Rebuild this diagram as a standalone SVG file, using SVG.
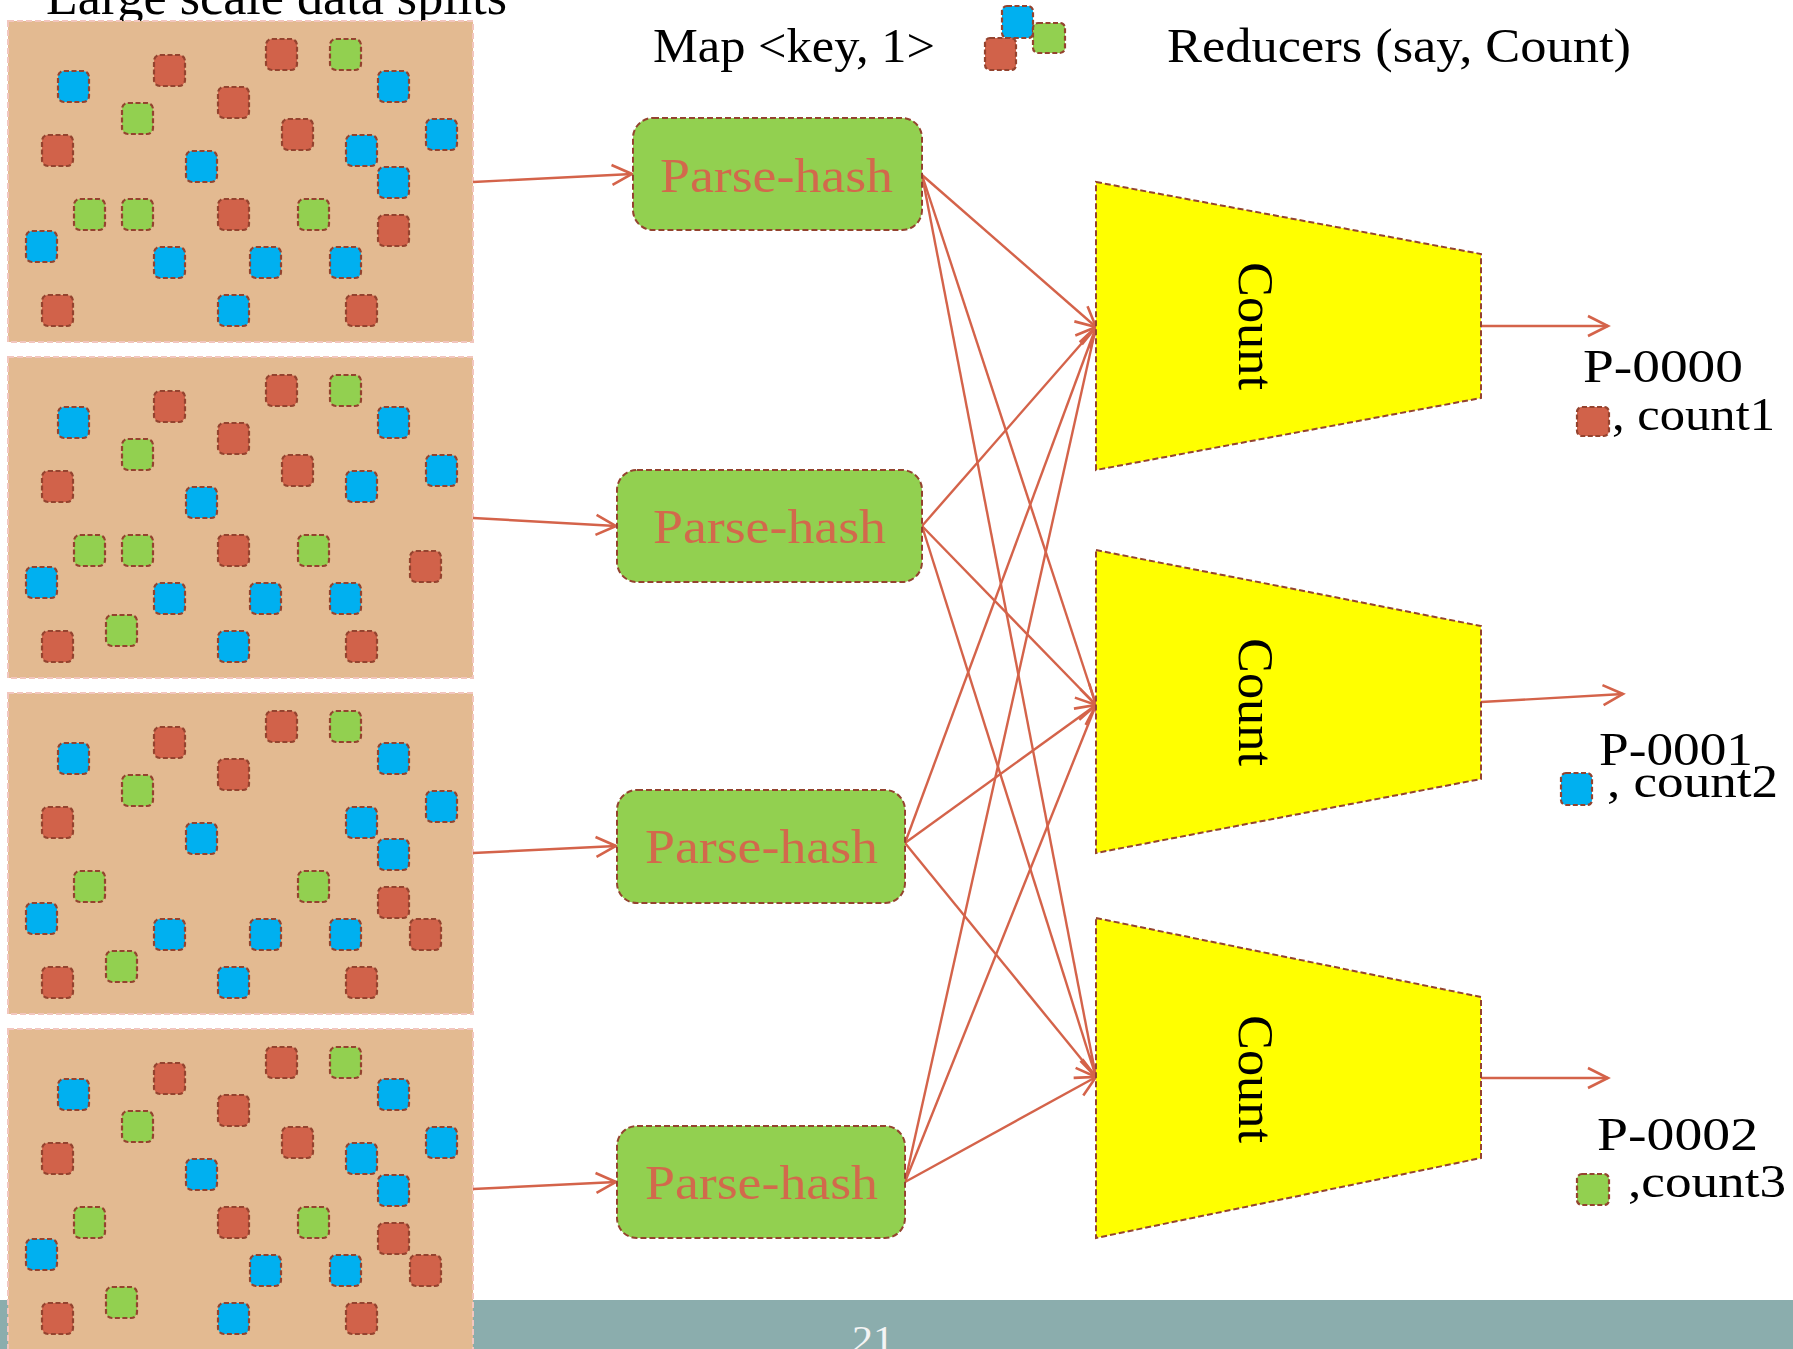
<svg xmlns="http://www.w3.org/2000/svg" width="1793" height="1349" viewBox="0 0 1793 1349">
<defs>
<style>
.txt{font-family:"Liberation Serif","Times New Roman",serif;fill:#000}
.ph{font-family:"Liberation Serif","Times New Roman",serif;fill:#D2694C;font-size:49px}
.split{fill:#E3BA91;stroke:#F2C6BE;stroke-width:2;stroke-dasharray:6 3}
.sq{stroke:#94432F;stroke-width:2.2;stroke-dasharray:5 2.5}
.r{fill:#D1624A}.b{fill:#00B0F0}.g{fill:#92D050}
.phbox{fill:#92D050;stroke:#94432F;stroke-width:2;stroke-dasharray:6 3}
.trap{fill:#FFFF00;stroke:#94432F;stroke-width:2;stroke-dasharray:6 3}
.con{stroke:#D4634A;stroke-width:2.4;fill:none;marker-end:url(#ah)}
</style>
<marker id="ah" markerUnits="userSpaceOnUse" markerWidth="26" markerHeight="26" refX="20" refY="10" orient="auto" overflow="visible">
<path d="M0,0 L20,10 L0,20" fill="none" stroke="#D4634A" stroke-width="2.6"/>
</marker>
</defs>
<rect width="1793" height="1349" fill="#FFFFFF"/>
<rect id="footer" x="0" y="1300" width="1793" height="49" fill="#8BADAD"/>
<text class="txt" x="873" y="1352" font-size="38" text-anchor="middle" textLength="42" lengthAdjust="spacingAndGlyphs" style="fill:#F4F4F4">21</text>

<text id="title" class="txt" x="46" y="14" font-size="52" textLength="461" lengthAdjust="spacingAndGlyphs">Large scale data splits</text>

<g id="split1" transform="translate(0,21)">
<rect class="split" x="8" y="0" width="465" height="321"/>
<rect class="sq b" x="58" y="50" width="31" height="31" rx="6"/>
<rect class="sq r" x="154" y="34" width="31" height="31" rx="6"/>
<rect class="sq r" x="266" y="18" width="31" height="31" rx="6"/>
<rect class="sq g" x="330" y="18" width="31" height="31" rx="6"/>
<rect class="sq b" x="378" y="50" width="31" height="31" rx="6"/>
<rect class="sq r" x="218" y="66" width="31" height="31" rx="6"/>
<rect class="sq g" x="122" y="82" width="31" height="31" rx="6"/>
<rect class="sq r" x="282" y="98" width="31" height="31" rx="6"/>
<rect class="sq b" x="426" y="98" width="31" height="31" rx="6"/>
<rect class="sq r" x="42" y="114" width="31" height="31" rx="6"/>
<rect class="sq b" x="346" y="114" width="31" height="31" rx="6"/>
<rect class="sq b" x="186" y="130" width="31" height="31" rx="6"/>
<rect class="sq b" x="378" y="146" width="31" height="31" rx="6"/>
<rect class="sq g" x="74" y="178" width="31" height="31" rx="6"/>
<rect class="sq g" x="122" y="178" width="31" height="31" rx="6"/>
<rect class="sq r" x="218" y="178" width="31" height="31" rx="6"/>
<rect class="sq g" x="298" y="178" width="31" height="31" rx="6"/>
<rect class="sq r" x="378" y="194" width="31" height="31" rx="6"/>
<rect class="sq b" x="26" y="210" width="31" height="31" rx="6"/>
<rect class="sq b" x="154" y="226" width="31" height="31" rx="6"/>
<rect class="sq b" x="250" y="226" width="31" height="31" rx="6"/>
<rect class="sq b" x="330" y="226" width="31" height="31" rx="6"/>
<rect class="sq r" x="42" y="274" width="31" height="31" rx="6"/>
<rect class="sq b" x="218" y="274" width="31" height="31" rx="6"/>
<rect class="sq r" x="346" y="274" width="31" height="31" rx="6"/>
</g>

<g id="split2" transform="translate(0,357)">
<rect class="split" x="8" y="0" width="465" height="321"/>
<rect class="sq b" x="58" y="50" width="31" height="31" rx="6"/>
<rect class="sq r" x="154" y="34" width="31" height="31" rx="6"/>
<rect class="sq r" x="266" y="18" width="31" height="31" rx="6"/>
<rect class="sq g" x="330" y="18" width="31" height="31" rx="6"/>
<rect class="sq b" x="378" y="50" width="31" height="31" rx="6"/>
<rect class="sq r" x="218" y="66" width="31" height="31" rx="6"/>
<rect class="sq g" x="122" y="82" width="31" height="31" rx="6"/>
<rect class="sq r" x="282" y="98" width="31" height="31" rx="6"/>
<rect class="sq b" x="426" y="98" width="31" height="31" rx="6"/>
<rect class="sq r" x="42" y="114" width="31" height="31" rx="6"/>
<rect class="sq b" x="346" y="114" width="31" height="31" rx="6"/>
<rect class="sq b" x="186" y="130" width="31" height="31" rx="6"/>
<rect class="sq g" x="74" y="178" width="31" height="31" rx="6"/>
<rect class="sq g" x="122" y="178" width="31" height="31" rx="6"/>
<rect class="sq r" x="218" y="178" width="31" height="31" rx="6"/>
<rect class="sq g" x="298" y="178" width="31" height="31" rx="6"/>
<rect class="sq r" x="410" y="194" width="31" height="31" rx="6"/>
<rect class="sq b" x="26" y="210" width="31" height="31" rx="6"/>
<rect class="sq b" x="154" y="226" width="31" height="31" rx="6"/>
<rect class="sq b" x="250" y="226" width="31" height="31" rx="6"/>
<rect class="sq b" x="330" y="226" width="31" height="31" rx="6"/>
<rect class="sq g" x="106" y="258" width="31" height="31" rx="6"/>
<rect class="sq r" x="42" y="274" width="31" height="31" rx="6"/>
<rect class="sq b" x="218" y="274" width="31" height="31" rx="6"/>
<rect class="sq r" x="346" y="274" width="31" height="31" rx="6"/>
</g>

<g id="split3" transform="translate(0,693)">
<rect class="split" x="8" y="0" width="465" height="321"/>
<rect class="sq b" x="58" y="50" width="31" height="31" rx="6"/>
<rect class="sq r" x="154" y="34" width="31" height="31" rx="6"/>
<rect class="sq r" x="266" y="18" width="31" height="31" rx="6"/>
<rect class="sq g" x="330" y="18" width="31" height="31" rx="6"/>
<rect class="sq b" x="378" y="50" width="31" height="31" rx="6"/>
<rect class="sq r" x="218" y="66" width="31" height="31" rx="6"/>
<rect class="sq g" x="122" y="82" width="31" height="31" rx="6"/>
<rect class="sq b" x="426" y="98" width="31" height="31" rx="6"/>
<rect class="sq r" x="42" y="114" width="31" height="31" rx="6"/>
<rect class="sq b" x="346" y="114" width="31" height="31" rx="6"/>
<rect class="sq b" x="186" y="130" width="31" height="31" rx="6"/>
<rect class="sq b" x="378" y="146" width="31" height="31" rx="6"/>
<rect class="sq g" x="74" y="178" width="31" height="31" rx="6"/>
<rect class="sq g" x="298" y="178" width="31" height="31" rx="6"/>
<rect class="sq r" x="378" y="194" width="31" height="31" rx="6"/>
<rect class="sq b" x="26" y="210" width="31" height="31" rx="6"/>
<rect class="sq b" x="154" y="226" width="31" height="31" rx="6"/>
<rect class="sq b" x="250" y="226" width="31" height="31" rx="6"/>
<rect class="sq b" x="330" y="226" width="31" height="31" rx="6"/>
<rect class="sq r" x="410" y="226" width="31" height="31" rx="6"/>
<rect class="sq g" x="106" y="258" width="31" height="31" rx="6"/>
<rect class="sq r" x="42" y="274" width="31" height="31" rx="6"/>
<rect class="sq b" x="218" y="274" width="31" height="31" rx="6"/>
<rect class="sq r" x="346" y="274" width="31" height="31" rx="6"/>
</g>

<g id="split4" transform="translate(0,1029)">
<rect class="split" x="8" y="0" width="465" height="330"/>
<rect class="sq b" x="58" y="50" width="31" height="31" rx="6"/>
<rect class="sq r" x="154" y="34" width="31" height="31" rx="6"/>
<rect class="sq r" x="266" y="18" width="31" height="31" rx="6"/>
<rect class="sq g" x="330" y="18" width="31" height="31" rx="6"/>
<rect class="sq b" x="378" y="50" width="31" height="31" rx="6"/>
<rect class="sq r" x="218" y="66" width="31" height="31" rx="6"/>
<rect class="sq g" x="122" y="82" width="31" height="31" rx="6"/>
<rect class="sq r" x="282" y="98" width="31" height="31" rx="6"/>
<rect class="sq b" x="426" y="98" width="31" height="31" rx="6"/>
<rect class="sq r" x="42" y="114" width="31" height="31" rx="6"/>
<rect class="sq b" x="346" y="114" width="31" height="31" rx="6"/>
<rect class="sq b" x="186" y="130" width="31" height="31" rx="6"/>
<rect class="sq b" x="378" y="146" width="31" height="31" rx="6"/>
<rect class="sq g" x="74" y="178" width="31" height="31" rx="6"/>
<rect class="sq r" x="218" y="178" width="31" height="31" rx="6"/>
<rect class="sq g" x="298" y="178" width="31" height="31" rx="6"/>
<rect class="sq r" x="378" y="194" width="31" height="31" rx="6"/>
<rect class="sq b" x="26" y="210" width="31" height="31" rx="6"/>
<rect class="sq b" x="250" y="226" width="31" height="31" rx="6"/>
<rect class="sq b" x="330" y="226" width="31" height="31" rx="6"/>
<rect class="sq r" x="410" y="226" width="31" height="31" rx="6"/>
<rect class="sq g" x="106" y="258" width="31" height="31" rx="6"/>
<rect class="sq r" x="42" y="274" width="31" height="31" rx="6"/>
<rect class="sq b" x="218" y="274" width="31" height="31" rx="6"/>
<rect class="sq r" x="346" y="274" width="31" height="31" rx="6"/>
</g>

<g id="legend">
<text class="txt" x="653" y="62" font-size="48" textLength="282" lengthAdjust="spacingAndGlyphs">Map &lt;key, 1&gt;</text>
<rect class="sq b" x="1002" y="6" width="31" height="32" rx="5"/>
<rect class="sq r" x="985" y="38" width="31" height="32" rx="5"/>
<rect class="sq g" x="1033" y="23" width="32" height="30" rx="5"/>
<text class="txt" x="1167" y="62" font-size="48" textLength="464" lengthAdjust="spacingAndGlyphs">Reducers (say, Count)</text>
</g>

<g id="connectors">
<path class="con" d="M473,182 L632,174"/>
<path class="con" d="M473,518 L616,526"/>
<path class="con" d="M473,853 L616,846"/>
<path class="con" d="M473,1189 L616,1182"/>
<path class="con" d="M922,175 L1096,327"/>
<path class="con" d="M922,175 L1096,705"/>
<path class="con" d="M922,175 L1096,1077"/>
<path class="con" d="M922,526 L1096,327"/>
<path class="con" d="M922,526 L1096,705"/>
<path class="con" d="M922,526 L1096,1077"/>
<path class="con" d="M905,843 L1096,327"/>
<path class="con" d="M905,843 L1096,705"/>
<path class="con" d="M905,843 L1096,1077"/>
<path class="con" d="M905,1182 L1096,327"/>
<path class="con" d="M905,1182 L1096,705"/>
<path class="con" d="M905,1182 L1096,1077"/>
<path class="con" d="M1481,326 L1608,326"/>
<path class="con" d="M1481,702 L1623,694"/>
<path class="con" d="M1481,1078 L1608,1078"/>
</g>

<g id="ph1">
<rect class="phbox" x="633" y="118" width="289" height="112" rx="20"/>
<text class="ph" x="660" y="192" textLength="233" lengthAdjust="spacingAndGlyphs">Parse-hash</text>
</g>
<g id="ph2">
<rect class="phbox" x="617" y="470" width="305" height="112" rx="20"/>
<text class="ph" x="653" y="543" textLength="233" lengthAdjust="spacingAndGlyphs">Parse-hash</text>
</g>
<g id="ph3">
<rect class="phbox" x="617" y="790" width="288" height="113" rx="20"/>
<text class="ph" x="645" y="863" textLength="233" lengthAdjust="spacingAndGlyphs">Parse-hash</text>
</g>
<g id="ph4">
<rect class="phbox" x="617" y="1126" width="288" height="112" rx="20"/>
<text class="ph" x="645" y="1199" textLength="233" lengthAdjust="spacingAndGlyphs">Parse-hash</text>
</g>

<g id="count1">
<polygon class="trap" points="1096,182 1481,254 1481,398 1096,470"/>
<text class="txt" transform="translate(1239,326) rotate(90)" font-size="50" text-anchor="middle" textLength="128" lengthAdjust="spacingAndGlyphs">Count</text>
</g>
<g id="count2">
<polygon class="trap" points="1096,550 1481,626 1481,779 1096,853"/>
<text class="txt" transform="translate(1239,702) rotate(90)" font-size="50" text-anchor="middle" textLength="128" lengthAdjust="spacingAndGlyphs">Count</text>
</g>
<g id="count3">
<polygon class="trap" points="1096,918 1481,997 1481,1158 1096,1238"/>
<text class="txt" transform="translate(1239,1079) rotate(90)" font-size="50" text-anchor="middle" textLength="128" lengthAdjust="spacingAndGlyphs">Count</text>
</g>

<g id="out1">
<text class="txt" x="1583" y="382" font-size="46" textLength="160" lengthAdjust="spacingAndGlyphs">P-0000</text>
<rect class="sq r" x="1577" y="407" width="32" height="29" rx="5"/>
<text class="txt" x="1612" y="430" font-size="46" textLength="163" lengthAdjust="spacingAndGlyphs">, count1</text>
</g>
<g id="out2">
<text class="txt" x="1599" y="765" font-size="46" textLength="154" lengthAdjust="spacingAndGlyphs">P-0001</text>
<rect class="sq b" x="1561" y="773" width="31" height="32" rx="5"/>
<text class="txt" x="1607" y="797" font-size="46" textLength="171" lengthAdjust="spacingAndGlyphs">, count2</text>
</g>
<g id="out3">
<text class="txt" x="1597" y="1150" font-size="46" textLength="161" lengthAdjust="spacingAndGlyphs">P-0002</text>
<rect class="sq g" x="1577" y="1174" width="32" height="31" rx="5"/>
<text class="txt" x="1628" y="1197" font-size="46" textLength="158" lengthAdjust="spacingAndGlyphs">,count3</text>
</g>
</svg>
